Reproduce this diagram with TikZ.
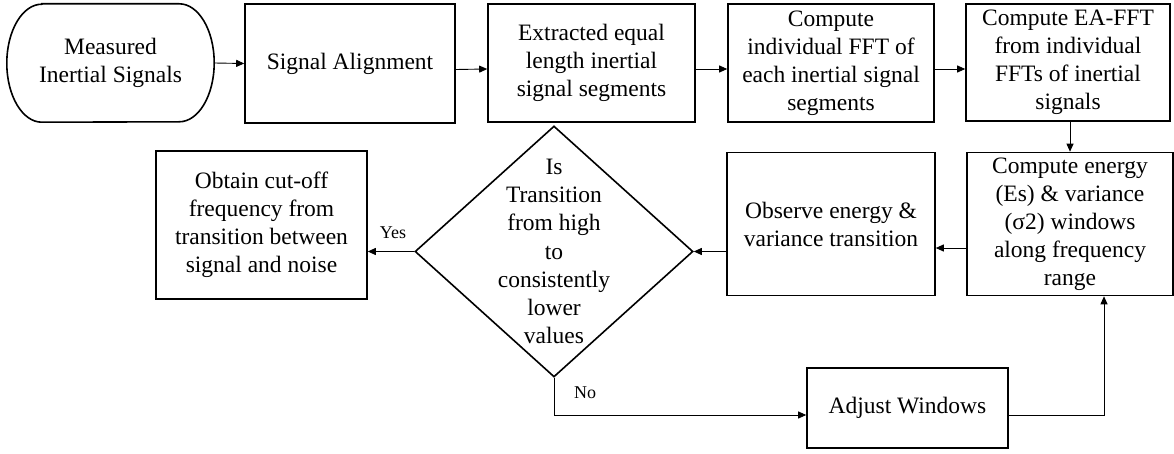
\documentclass[tikz,border=0pt]{standalone}
\usepackage{fontspec}
\setmainfont{LiberationSerif}[Extension=.ttf,UprightFont=*-Regular,BoldFont=*-Bold,ItalicFont=*-Italic]
\usetikzlibrary{shapes.geometric,arrows.meta}
\begin{document}
\begin{tikzpicture}[x=1pt,y=1pt,
  box/.style={draw=black,line width=1.6pt,align=center,inner sep=0pt,
    font=\fontsize{23.5}{28}\selectfont},
  term/.style={align=center,inner sep=0pt,font=\fontsize{23.5}{28}\selectfont},
  arr/.style={line width=0.9pt,-{Triangle[length=8pt,width=7pt]}},
  lbl/.style={font=\fontsize{18}{21}\selectfont,inner sep=0pt}]
\useasboundingbox (0,0) rectangle (1174,453);
% top row
\node[term,minimum width=207pt,minimum height=118pt] (T) at (110.5,390) {Measured\\Inertial Signals};
\draw[line width=1.6pt] ([xshift=35pt]T.north west) -- ([xshift=-35pt]T.north east)
  arc[start angle=90,end angle=-90,x radius=35pt,y radius=59pt]
  -- ([xshift=35pt]T.south west)
  arc[start angle=270,end angle=90,x radius=35pt,y radius=59pt] -- cycle;
\node[box,minimum width=210pt,minimum height=119pt] (SA) at (350,389.5) {Signal Alignment};
\node[box,minimum width=207pt,minimum height=118pt] (EX) at (591.5,390) {Extracted equal\\length inertial\\signal segments};
\node[box,minimum width=206pt,minimum height=118pt] (CF) at (831,390) {Compute\\individual FFT of\\each inertial signal\\segments};
\node[box,minimum width=204pt,minimum height=117pt] (EA) at (1068,390.5) {Compute EA-FFT\\from individual\\FFTs of inertial\\signals};
% middle row
\node[box,minimum width=206pt,minimum height=143pt] (CE) at (1070,229) {Compute energy\\(Es) \& variance\\(σ2) windows\\along frequency\\range};
\node[box,minimum width=208pt,minimum height=143pt] (OB) at (831,229) {Observe energy \&\\variance transition};
\node[draw=black,line width=1.6pt,diamond,inner sep=0pt,minimum width=278pt,minimum height=251pt,
  label={[align=center,font=\fontsize{23.5}{28.3}\selectfont]center:Is\\Transition\\from high\\to\\consistently\\lower\\values}] (D) at (554,201.5) {};
\node[box,minimum width=211pt,minimum height=148pt] (OBT) at (261.5,228) {Obtain cut-off\\frequency from\\transition between\\signal and noise};
\node[box,minimum width=201pt,minimum height=80pt] (ADJ) at (907.5,45) {Adjust Windows};
% connectors
\draw[arr] (T.east) -- (SA.west);
\draw[arr] ([yshift=-6pt]SA.east) -- ([yshift=-6pt]EX.west);
\draw[arr] ([yshift=-6pt]EX.east) -- ([yshift=-6pt]CF.west);
\draw[arr] ([yshift=-6pt]CF.east) -- ([yshift=-6.5pt]EA.west);
\draw[arr] (CE.north |- EA.south) -- (CE.north);
\draw[arr] ([yshift=-24pt]CE.west) -- ([yshift=-24pt]OB.east);
\draw[arr] (OB.west |- D.east) -- (D.east);
\draw[arr] (D.west) -- (D.west -| OBT.east);
\node[lbl] (yes) at (393,220) {Yes};
\draw[arr] (D.south) |- ([yshift=-7pt]ADJ.west);
\node[lbl] (no) at (585,60) {No};
\draw[arr] ([yshift=-7pt]ADJ.east) -| ([xshift=34pt]CE.south);
\end{tikzpicture}
\end{document}
